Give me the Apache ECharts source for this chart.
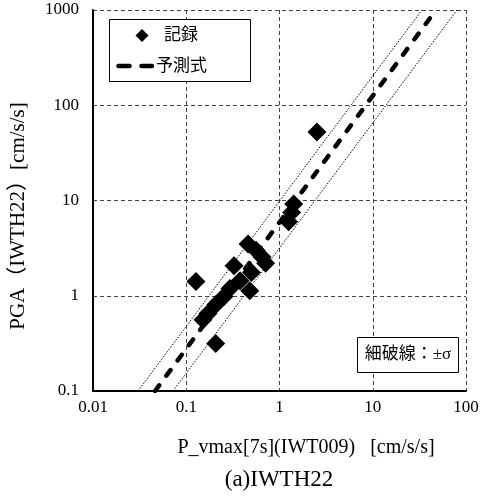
<!DOCTYPE html>
<html>
<head>
<meta charset="utf-8">
<script src="https://cdn.jsdelivr.net/npm/echarts@6/dist/echarts.min.js"></script>
<style>
  html, body { margin: 0; padding: 0; background: #ffffff; }
  #chart { width: 486px; height: 500px; }
</style>
</head>
<body>
<div id="chart"></div>
<script>
// Decade ticks of both log axes
const xTicks = [0.01, 0.1, 1, 10, 100];
const yTicks = [0.1, 1, 10, 100, 1000];

// Observed records: P-wave peak velocity amplitude (IWT009) vs PGA (IWTH22)
const recordPv  = [2.52, 1.42, 1.35, 1.25, 0.46, 0.56, 0.65, 0.71, 0.325, 0.50, 0.48, 0.377, 0.294, 0.254, 0.208, 0.171, 0.151, 0.127, 0.207];
const recordPga = [52.5, 9.2,  7.5,  6.0,  3.5,  3.0,  2.55, 2.2,  2.07,  1.75, 1.13, 1.44,  1.19,  0.98,  0.81,  0.65,  0.56,  1.41,  0.315];

// Prediction formula and its ±σ band, as end points across the plotted range
const predPga  = [0.1, 1000];
const predPv   = [0.0463, 47.7];
const plusSigmaPv  = [0.0304, 33.7];
const minusSigmaPv = [0.0721, 80];

const serif = '"Liberation Serif", "Times New Roman", "Noto Sans CJK JP", serif';
const jp = '"Liberation Serif", "Noto Sans CJK JP", sans-serif';

function pairs(xs, ys) { return xs.map((x, i) => [x, ys[i]]); }
function tickText(list) {
  return function (v) {
    const t = list.find(t => Math.abs(Math.log10(t) - Math.log10(v)) < 1e-6);
    return t === undefined ? '' : String(t);
  };
}

const gridLine = { show: true, lineStyle: { color: '#444', width: 1, type: [4, 3] } };

const chart = echarts.init(document.getElementById('chart'), null, { renderer: 'canvas' });
chart.setOption({
  backgroundColor: '#ffffff',
  animation: false,
  grid: { left: 93, right: 20, top: 10, bottom: 109, containLabel: false },
  xAxis: {
    type: 'log', logBase: 10, min: 0.01, max: 100,
    name: 'P_vmax[7s](IWT009)   [cm/s/s]',
    nameLocation: 'middle', nameGap: 47,
    nameTextStyle: { fontFamily: serif, fontSize: 20, color: '#000', padding: [0, 0, 0, 53] },
    axisLine: { show: true, onZero: false, lineStyle: { color: '#000', width: 2 } },
    axisTick: { show: false },
    minorTick: { show: false },
    axisLabel: { margin: 8, fontFamily: serif, fontSize: 17, color: '#000', formatter: tickText(xTicks), showMinLabel: true, showMaxLabel: true },
    splitLine: gridLine
  },
  yAxis: {
    type: 'log', logBase: 10, min: 0.1, max: 1000,
    name: 'PGA（IWTH22）[cm/s/s]',
    nameLocation: 'middle', nameRotate: 90, nameGap: 64,
    nameTextStyle: { fontFamily: jp, fontSize: 21, color: '#000', padding: [0, 31, 0, 0] },
    axisLine: { show: true, onZero: false, lineStyle: { color: '#000', width: 2 } },
    axisTick: { show: false },
    minorTick: { show: false },
    axisLabel: { margin: 14, fontFamily: serif, fontSize: 17, color: '#000', formatter: tickText(yTicks), showMinLabel: true, showMaxLabel: true },
    splitLine: gridLine
  },
  series: [
    {
      name: '+σ', type: 'line', data: pairs(plusSigmaPv, predPga),
      symbol: 'none', silent: true, z: 3,
      lineStyle: { color: '#000', width: 1, type: [1.5, 1.5] }
    },
    {
      name: '-σ', type: 'line', data: pairs(minusSigmaPv, predPga),
      symbol: 'none', silent: true, z: 3,
      lineStyle: { color: '#000', width: 1, type: [1.5, 1.5] }
    },
    {
      name: '記録', type: 'scatter', data: pairs(recordPv, recordPga),
      symbol: 'diamond', symbolSize: 19, z: 4,
      itemStyle: { color: '#000', opacity: 1 }
    },
    {
      name: '予測式', type: 'line', data: pairs(predPv, predPga),
      symbol: 'none', silent: true, z: 5,
      lineStyle: { color: '#000', width: 4.5, type: [7, 12], cap: 'round' }
    }
  ],
  graphic: [
    // legend box
    { type: 'rect', shape: { x: 109.5, y: 19.5, width: 141, height: 62 },
      style: { fill: '#fff', stroke: '#000', lineWidth: 1 }, z: 10 },
    { type: 'polygon', shape: { points: [[142, 29], [148.5, 35.5], [142, 42], [135.5, 35.5]] },
      style: { fill: '#000' }, z: 11 },
    { type: 'text', x: 164, y: 36, z: 11,
      style: { text: '記録', font: '17px ' + jp, fill: '#000', verticalAlign: 'middle' } },
    { type: 'line', shape: { x1: 118.5, y1: 66, x2: 152, y2: 66 }, z: 11,
      style: { stroke: '#000', lineWidth: 4.5, lineDash: [11, 12], lineCap: 'round' } },
    { type: 'text', x: 156, y: 67, z: 11,
      style: { text: '予測式', font: '17px ' + jp, fill: '#000', verticalAlign: 'middle' } },
    // sigma note box
    { type: 'rect', shape: { x: 357.5, y: 337.5, width: 101, height: 35 },
      style: { fill: '#fff', stroke: '#000', lineWidth: 1 }, z: 10 },
    { type: 'text', x: 408, y: 355, z: 11,
      style: { text: '細破線：±σ', font: '17px ' + jp, fill: '#000', align: 'center', verticalAlign: 'middle' } },
    // caption
    { type: 'text', x: 279, y: 480, z: 11,
      style: { text: '(a)IWTH22', font: '23px ' + serif, fill: '#000', align: 'center', verticalAlign: 'middle' } }
  ]
});
</script>
</body>
</html>
